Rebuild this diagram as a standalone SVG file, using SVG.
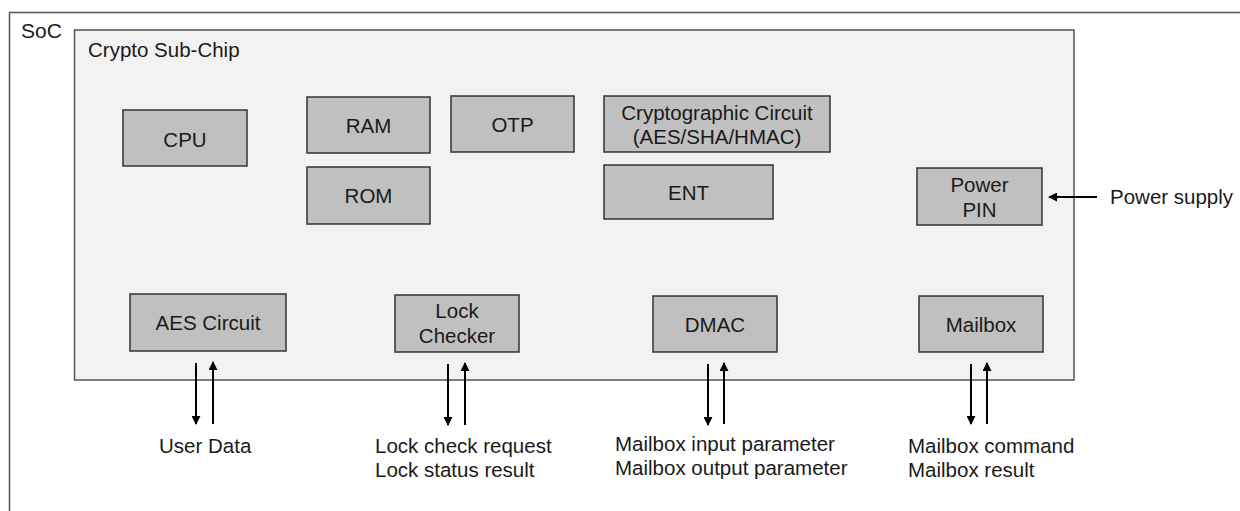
<svg xmlns="http://www.w3.org/2000/svg" width="1240" height="511" viewBox="0 0 1240 511">
<style>
text{font-family:"Liberation Sans",Arial,sans-serif;fill:#1a1a1a;}
.blk rect{fill:#c0c0c0;stroke:#333;stroke-width:1.5;}
.blk text{font-size:20.5px;text-anchor:middle;}
.lbl{font-size:20.5px;}
.conn line{stroke:#000;stroke-width:2;}
</style>
<defs>
<marker id="ah" viewBox="0 0 10 10" refX="9" refY="5" markerWidth="4.5" markerHeight="4.5" orient="auto" markerUnits="strokeWidth">
<path d="M0,0 L10,5 L0,10 z" fill="#000"/>
</marker>
</defs>
<rect width="1240" height="511" fill="#fff"/>
<g id="soc">
<path d="M1240,12.5 H9.5 V511" fill="none" stroke="#555" stroke-width="1.5"/>
<text x="21" y="38" font-size="21">SoC</text>
</g>
<g id="crypto-sub-chip">
<rect x="74.5" y="30" width="999.5" height="350" fill="#f2f2f2" stroke="#555" stroke-width="1.5"/>
<text x="88" y="57" font-size="20.5">Crypto Sub-Chip</text>
</g>
<g id="cpu" class="blk"><rect x="123" y="110" width="124" height="56"/><text x="185" y="147">CPU</text></g>
<g id="ram" class="blk"><rect x="307" y="97" width="123" height="56"/><text x="368.5" y="133">RAM</text></g>
<g id="rom" class="blk"><rect x="307" y="167" width="123" height="57"/><text x="368.5" y="203">ROM</text></g>
<g id="otp" class="blk"><rect x="451" y="96" width="123" height="56"/><text x="512.5" y="132">OTP</text></g>
<g id="crypto-circuit" class="blk"><rect x="604" y="96" width="226" height="56"/><text x="717" y="120">Cryptographic Circuit</text><text x="717" y="144">(AES/SHA/HMAC)</text></g>
<g id="ent" class="blk"><rect x="604" y="165" width="169" height="54"/><text x="688.5" y="200">ENT</text></g>
<g id="power-pin" class="blk"><rect x="917" y="168" width="125" height="57"/><text x="979.5" y="192">Power</text><text x="979.5" y="217">PIN</text></g>
<g id="aes-circuit" class="blk"><rect x="130" y="294" width="156" height="57"/><text x="208" y="330">AES Circuit</text></g>
<g id="lock-checker" class="blk"><rect x="395" y="295" width="124" height="57"/><text x="457" y="318">Lock</text><text x="457" y="343">Checker</text></g>
<g id="dmac" class="blk"><rect x="653" y="296" width="124" height="56"/><text x="715" y="332">DMAC</text></g>
<g id="mailbox" class="blk"><rect x="919" y="296" width="124" height="56"/><text x="981" y="332">Mailbox</text></g>
<g id="connectors" class="conn">
<line x1="1097" y1="197" x2="1049" y2="197" marker-end="url(#ah)"/>
<line x1="196" y1="363" x2="196" y2="424" marker-end="url(#ah)"/>
<line x1="213" y1="424" x2="213" y2="362" marker-end="url(#ah)"/>
<line x1="448" y1="364" x2="448" y2="425" marker-end="url(#ah)"/>
<line x1="465" y1="425" x2="465" y2="363" marker-end="url(#ah)"/>
<line x1="708" y1="364" x2="708" y2="425" marker-end="url(#ah)"/>
<line x1="724" y1="424" x2="724" y2="363" marker-end="url(#ah)"/>
<line x1="971" y1="364" x2="971" y2="424" marker-end="url(#ah)"/>
<line x1="987" y1="424" x2="987" y2="363" marker-end="url(#ah)"/>
</g>
<g id="labels">
<text class="lbl" x="1110" y="204">Power supply</text>
<text class="lbl" x="159" y="453">User Data</text>
<text class="lbl" x="375" y="453">Lock check request</text>
<text class="lbl" x="375" y="477">Lock status result</text>
<text class="lbl" x="615" y="451">Mailbox input parameter</text>
<text class="lbl" x="615" y="475">Mailbox output parameter</text>
<text class="lbl" x="908" y="453">Mailbox command</text>
<text class="lbl" x="908" y="477">Mailbox result</text>
</g>
</svg>
